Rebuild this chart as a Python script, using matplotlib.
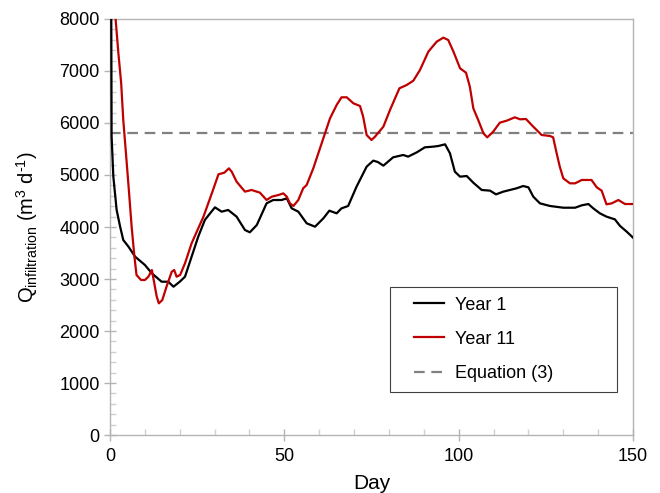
import matplotlib
matplotlib.use('Agg')
import matplotlib.pyplot as plt
from matplotlib.legend_handler import HandlerLine2D
from matplotlib.ticker import MultipleLocator

plt.rcParams['font.family'] = ['Liberation Sans', 'DejaVu Sans']
plt.rcParams['mathtext.fontset'] = 'custom'
plt.rcParams['mathtext.rm'] = 'Liberation Sans'
plt.rcParams['mathtext.it'] = 'Liberation Sans:italic'

# Year 1 (black)
day_y1 = [0.3, 0.45, 0.95, 1.9, 2.9, 3.8, 5.3, 7.2, 10, 12, 14.8, 16.7, 18.2, 20, 21.5,
          23.4, 25.3, 27.2, 28.7, 30.1, 32, 33.9, 36.3, 38.7, 40.1, 42.1, 44.9,
          46.8, 49.2, 50.7, 52.1, 54, 56.4, 58.8, 61.2, 62.9, 65, 66.4, 68.3,
          70.7, 73.6, 75.5, 76.8, 78.4, 81.2, 84.1, 85.5, 88, 90.3, 92.7, 94.2,
          96.1, 97.5, 98.9, 100.4, 102.3, 104.2, 106.6, 109, 110.7, 112.8, 114.7,
          116.6, 118.5, 120, 121.4, 123.3, 126.2, 130, 133.4, 135.3, 137.2, 138.6,
          140.5, 142.4, 144.8, 146.3, 148.2, 150]
q_y1 = [9500, 5750, 4967, 4327, 4006, 3750, 3621, 3429, 3270, 3109, 2948, 2948, 2852,
        2948, 3044, 3429, 3814, 4135, 4263, 4378, 4295, 4327, 4199, 3942, 3898,
        4038, 4455, 4519, 4519, 4551, 4359, 4295, 4071, 4006, 4167, 4314, 4263,
        4359, 4404, 4775, 5160, 5276, 5250, 5180, 5340, 5385, 5353, 5436, 5532,
        5545, 5558, 5590, 5417, 5064, 4968, 4981, 4852, 4712, 4699, 4628, 4680,
        4712, 4744, 4788, 4763, 4583, 4455, 4404, 4371, 4371, 4417, 4442, 4359,
        4263, 4199, 4147, 4019, 3910, 3795]

# Year 11 (red)
day_y11 = [1.2, 1.6, 2.4, 3.2, 3.8, 4.8, 5.4, 6.2, 7.0, 7.6, 8.9, 10, 11, 12, 12.7,
           13.4, 14, 15, 16.2, 17.7, 18.4, 19.1, 20.1, 21.5, 23.4, 25.3, 26.8,
           29.2, 31.1, 32.8, 34.1, 34.9, 36.3, 38.7, 40.6, 43, 44.9, 46.4, 48.3,
           49.7, 50.7, 51.6, 52.6, 54, 55.4, 56.4, 58.3, 60.7, 63.1, 65, 66.4,
           67.9, 69.8, 71.7, 72.6, 73.6, 75, 76, 78.4, 80.3, 83, 85.1, 87, 88.9,
           91.3, 93.7, 95.6, 97, 98.5, 100.4, 102.1, 103.2, 104.2, 105.6, 107.1,
           108.2, 109.9, 111.8, 113.8, 116.1, 117.6, 119.3, 121.4, 123.8, 126.2,
           127.1, 128.1, 129, 130, 131.9, 133.4, 135.3, 138.1, 139.6, 141, 142.4,
           143.9, 145.8, 147.7, 150]
q_y11 = [8800, 8000, 7340, 6763, 6058, 5224, 4712, 4006, 3429, 3077, 2981, 2981,
         3044, 3173, 2917, 2660, 2532, 2596, 2852, 3140, 3173, 3044, 3077, 3301,
         3686, 3974, 4199, 4647, 5013, 5045, 5128, 5064, 4872, 4680, 4712, 4660,
         4519, 4583, 4615, 4647, 4583, 4455, 4404, 4519, 4744, 4808, 5128, 5609,
         6090, 6346, 6494, 6494, 6378, 6327, 6122, 5769, 5673, 5737, 5929, 6250,
         6667, 6731, 6814, 7019, 7372, 7564, 7641, 7596, 7372, 7051, 6967, 6699,
         6282, 6058, 5801, 5724, 5833, 6006, 6045, 6109, 6071, 6077, 5929, 5769,
         5750, 5724, 5417, 5160, 4936, 4840, 4840, 4904, 4904, 4763, 4699, 4436,
         4455, 4519, 4442, 4442]

q_equation = 5800

fig = plt.figure(figsize=(6.6, 4.93), dpi=100)
ax = fig.add_axes([0.1667, 0.1176, 0.7924, 0.8439])

ax.plot(day_y1, q_y1, color='black', lw=1.6, label='Year 1', zorder=3)
ax.plot(day_y11, q_y11, color='#c00000', lw=1.6, label='Year 11', zorder=3)
ax.axhline(q_equation, color='#808080', lw=1.6, dashes=(4.8, 3.0),
           label='Equation (3)', zorder=2)

ax.set_xlim(0, 150)
ax.set_ylim(0, 8000)
ax.xaxis.set_major_locator(MultipleLocator(50))
ax.xaxis.set_minor_locator(MultipleLocator(10))
ax.yaxis.set_major_locator(MultipleLocator(1000))
ax.yaxis.set_minor_locator(MultipleLocator(200))

for s in ax.spines.values():
    s.set_color('#b4b4b4')
    s.set_linewidth(1.0)
ax.tick_params(which='major', direction='inout', length=8, color='#b4b4b4',
               labelsize=13, width=1)
ax.tick_params(which='minor', direction='in', length=4, color='#d0d0d0', width=1)
ax.tick_params(axis='x', which='major', pad=5)

ax.set_xlabel('Day', fontsize=15, labelpad=7)
ax.set_ylabel('Q$_{\\mathrm{infiltration}}$ (m$^{3}$ d$^{\\mathrm{\u2010}1}$)',
              fontsize=14.5, labelpad=14)

hm = {l: HandlerLine2D(xpad=0.8) for l in ax.get_lines()}
leg = ax.legend(loc='lower left', bbox_to_anchor=(0.535, 0.104, 0.434, 0.255),
                mode='expand', fontsize=13, frameon=True, fancybox=False,
                edgecolor='#404040', framealpha=1, borderpad=0.55, labelspacing=0.95,
                handlelength=2.45, handletextpad=0.6, borderaxespad=0,
                handler_map=hm)
leg.get_frame().set_linewidth(0.8)

fig.savefig('out.png', dpi=100)
